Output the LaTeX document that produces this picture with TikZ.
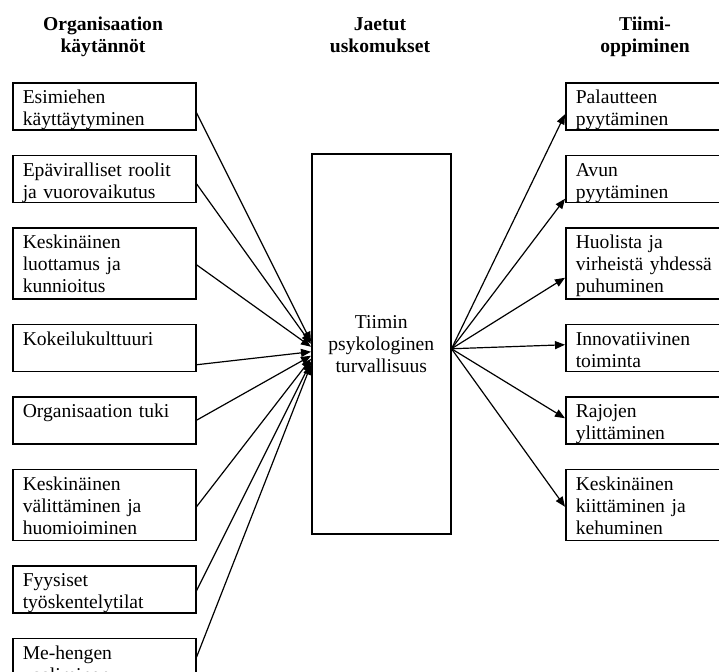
\documentclass[tikz,border=0pt]{standalone}
\usepackage{fontspec}
\setmainfont{Liberation Serif}
\usetikzlibrary{positioning}
\usetikzlibrary{arrows.meta}
\tikzset{
    practice/.style = {rectangle, draw, line width=0.75pt, anchor=north west,
        inner xsep=5pt, inner ysep=0pt, text width=81.5pt, align=left,
        text height=10.5pt, text depth=13pt},
    tall/.style = {text depth=25pt},
    belief/.style = {rectangle, draw, line width=0.75pt, anchor=north west,
        inner sep=0pt, minimum width=69.5pt, minimum height=190pt, align=center},
    heading/.style = {font=\fontsize{9.8pt}{11pt}\selectfont\bfseries, align=center, anchor=base}}

\begin{document}
\begin{tikzpicture}[x=0.5pt, y=-0.5pt, -{Triangle[length=5pt,width=4pt]},
    line width=0.6pt, node distance=12pt,
    font=\fontsize{9.8pt}{11pt}\selectfont]
    \useasboundingbox (0,0) rectangle (719,671);
    \clip (0,0) rectangle (719,671);
    % headings
    \node[heading] (HO) at (103,52) {Organisaation\\käytännöt};
    \node[heading] (HJ) at (380,52) {Jaetut\\uskomukset};
    \node[heading] (HT) at (645,52) {Tiimi-\\oppiminen};
    % organisation practices
    \node[practice] (O1) at (12,82) {Esimiehen\\käyttäytyminen};
    \node[practice] (O2) [below = of O1] {Epäviralliset roolit\\ja vuorovaikutus};
    \node[practice, tall] (O3) [below = of O2] {Keskinäinen\\luottamus ja\\kunnioitus};
    \node[practice] (O4) [below = of O3] {Kokeilukulttuuri\\\mbox{}};
    \node[practice] (O5) [below = of O4] {Organisaation tuki\\\mbox{}};
    \node[practice, tall] (O6) [below = of O5] {Keskinäinen\\välittäminen ja\\huomioiminen};
    \node[practice] (O7) [below = of O6] {Fyysiset\\työskentelytilat};
    \node[practice] (O8) [below = of O7] {Me-hengen\\vaaliminen};
    % shared belief
    \node[belief] (J) at (311,153) {Tiimin\\psykologinen\\turvallisuus};
    % team learning
    \node[practice] (T1) at (565,82) {Palautteen\\pyytäminen};
    \node[practice] (T2) [below = of T1] {Avun\\pyytäminen};
    \node[practice, tall] (T3) [below = of T2] {Huolista ja\\virheistä yhdessä\\puhuminen};
    \node[practice] (T4) [below = of T3] {Innovatiivinen\\toiminta};
    \node[practice] (T5) [below = of T4] {Rajojen\\ylittäminen};
    \node[practice, tall] (T6) [below = of T5] {Keskinäinen\\kiittäminen ja\\kehuminen};
    % into the belief
    \draw ([yshift=-3.25pt]O1.east) -- ([yshift=1pt]J.west);
    \draw ([yshift=-2.5pt]O2.east) -- (J.west);
    \draw ([yshift=-0.75pt]O3.east) -- ([yshift=-1.5pt]J.west);
    \draw ([yshift=-8.5pt]O4.east) -- ([yshift=-4pt]J.west);
    \draw (O5.east) -- ([yshift=-6pt]J.west);
    \draw ([yshift=-1pt]O6.east) -- ([yshift=-7.5pt]J.west);
    \draw ([yshift=-0.75pt]O7.east) -- ([yshift=-9pt]J.west);
    \draw ([yshift=2.25pt]O8.east) -- ([yshift=-10.5pt]J.west);
    % out to team learning
    \draw ([yshift=-2.5pt]J.east) -- ([yshift=-4pt]T1.west);
    \draw ([yshift=-2.5pt]J.east) -- ([yshift=-10pt]T2.west);
    \draw ([yshift=-2.5pt]J.east) -- ([yshift=-7.25pt]T3.west);
    \draw ([yshift=-2.5pt]J.east) -- ([yshift=1.5pt]T4.west);
    \draw ([yshift=-2.5pt]J.east) -- ([yshift=1pt]T5.west);
    \draw ([yshift=-2.5pt]J.east) -- ([yshift=-1pt]T6.west);
\end{tikzpicture}
\end{document}
